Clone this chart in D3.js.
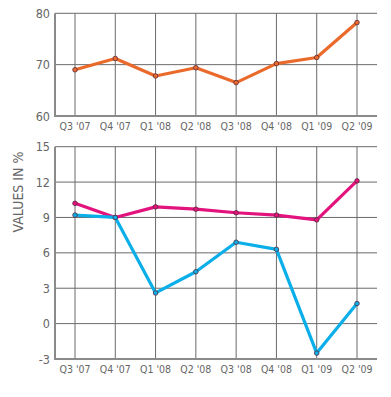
<!DOCTYPE html>
<html><head><meta charset="utf-8">
<script src="https://cdn.jsdelivr.net/npm/d3@7"></script>
<style>body{margin:0;background:#fff}svg{display:block}text{font-family:"DejaVu Sans Condensed","Roboto",sans-serif;fill:#666}</style>
</head><body><svg id="c" width="391" height="397"></svg>
<script>
const categories = ["Q3 '07","Q4 '07","Q1 '08","Q2 '08","Q3 '08","Q4 '08","Q1 '09","Q2 '09"];
const topValues = [69.0, 71.2, 67.8, 69.4, 66.5, 70.2, 71.4, 78.2];
const pinkValues = [10.2, 9.0, 9.9, 9.7, 9.4, 9.2, 8.8, 12.1];
const blueValues = [9.2, 9.0, 2.6, 4.4, 6.9, 6.3, -2.5, 1.7];
const topTicks = [60, 70, 80];
const bottomTicks = [-3, 0, 3, 6, 9, 12, 15];
const yLabel = "VALUES IN %";

const svg = d3.select("#c");
const left = 55, right = 377;
const x = d3.scalePoint().domain(categories).range([75, 357]);

function panel(yTop, yBot, domain, ticks, series) {
  const y = d3.scaleLinear().domain(domain).range([yBot, yTop]);
  const g = svg.append("g");
  // horizontal grid
  g.selectAll("line.h").data(ticks).enter().append("line")
    .attr("x1", left).attr("x2", right).attr("y1", d => y(d)).attr("y2", d => y(d))
    .attr("stroke", "#6a6a6a").attr("stroke-width", 1);
  // vertical grid
  g.selectAll("line.v").data(categories).enter().append("line")
    .attr("x1", d => x(d)).attr("x2", d => x(d)).attr("y1", yTop).attr("y2", yBot)
    .attr("stroke", "#6a6a6a").attr("stroke-width", 1);
  // axes
  g.append("line").attr("x1", left).attr("x2", left).attr("y1", yTop).attr("y2", yBot + 1)
    .attr("stroke", "#8a8a8a").attr("stroke-width", 2);
  g.append("line").attr("x1", left).attr("x2", right).attr("y1", yBot).attr("y2", yBot)
    .attr("stroke", "#8a8a8a").attr("stroke-width", 2);
  // y tick labels
  g.selectAll("text.y").data(ticks).enter().append("text")
    .attr("x", left - 5).attr("y", d => y(d)).attr("dy", "0.36em")
    .attr("text-anchor", "end").style("font-size", "12.5px").text(d => d);
  // x tick labels
  g.selectAll("text.x").data(categories).enter().append("text")
    .attr("x", d => x(d)).attr("y", yBot + 14)
    .attr("text-anchor", "middle").style("font-size", "10.5px").text(d => d);
  const line = d3.line().x((d, i) => x(categories[i])).y(d => y(d));
  series.forEach(s => {
    g.append("path").datum(s.values).attr("d", line).attr("fill", "none")
      .attr("stroke", s.color).attr("stroke-width", 3.2).attr("stroke-linejoin", "round");
    g.selectAll(null).data(s.values).enter().append("circle")
      .attr("cx", (d, i) => x(categories[i])).attr("cy", d => y(d)).attr("r", 2.3)
      .attr("fill", s.color).attr("stroke", "#5a2a3a").attr("stroke-width", 0.8);
  });
}

panel(13.3, 116, [60, 80], topTicks, [{values: topValues, color: "#ea6a2b"}]);
panel(146.7, 359, [-3, 15], bottomTicks, [
  {values: pinkValues, color: "#e3137e"},
  {values: blueValues, color: "#0aaee8"}
]);

svg.append("text").attr("transform", "translate(23,192) rotate(-90)")
  .attr("text-anchor", "middle").style("font-size", "14px").text(yLabel);
</script></body></html>
